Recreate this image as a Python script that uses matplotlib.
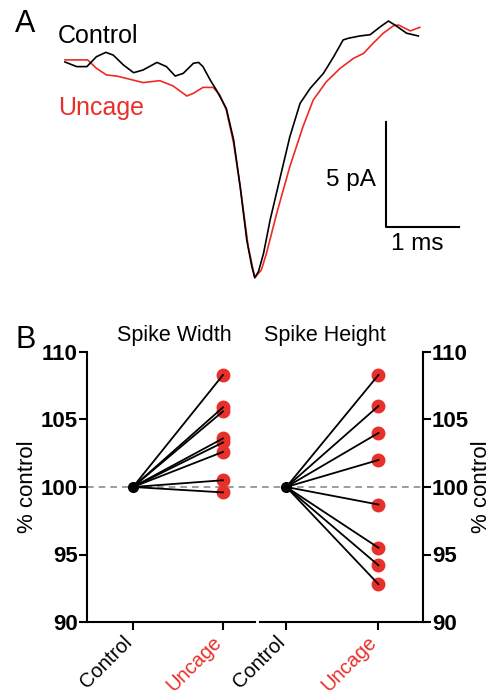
import numpy as np
import matplotlib
matplotlib.use('Agg')
import matplotlib.pyplot as plt
from matplotlib.transforms import ScaledTranslation

plt.rcParams['font.family'] = ['Liberation Sans', 'DejaVu Sans']

# Panel A: averaged spike traces (time in ms, current in pA)
ctrl_t = [0, 0.16, 0.30, 0.43, 0.56, 0.66, 0.80, 0.94, 1.07, 1.26, 1.39, 1.51, 1.62, 1.76,
          1.83, 1.89, 1.99, 2.08, 2.21, 2.31, 2.40, 2.49, 2.56, 2.60, 2.65, 2.72, 2.81, 2.95,
          3.08, 3.22, 3.36, 3.54, 3.68, 3.81, 3.88, 4.04, 4.18, 4.32, 4.43, 4.52, 4.68, 4.84]
ctrl_i = [0, -0.22, -0.22, 0.25, 0.46, 0.33, -0.14, -0.51, -0.38, -0.02, -0.22, -0.67, -0.54, -0.06,
          -0.02, -0.22, -0.86, -1.37, -2.21, -3.71, -5.94, -8.48, -9.75, -10.27, -9.98, -9.11, -7.52, -5.46,
          -3.56, -1.97, -1.25, -0.54, 0.25, 1.05, 1.13, 1.24, 1.30, 1.68, 1.95, 1.76, 1.37, 1.24]
unc_t = [0, 0.31, 0.43, 0.57, 0.71, 0.84, 1.07, 1.30, 1.48, 1.67, 1.76, 1.89, 2.03, 2.12,
         2.21, 2.31, 2.40, 2.51, 2.60, 2.69, 2.76, 2.90, 3.08, 3.26, 3.40, 3.58, 3.77, 3.95,
         4.09, 4.22, 4.36, 4.50, 4.57, 4.73, 4.86]
unc_i = [0.10, 0.10, -0.30, -0.62, -0.67, -0.78, -0.98, -0.89, -1.14, -1.62, -1.49, -1.21, -1.21, -1.57,
         -2.29, -3.87, -5.94, -8.79, -10.27, -9.90, -9.11, -7.21, -4.98, -3.08, -1.81, -0.94, -0.30, 0.17,
         0.41, 0.89, 1.37, 1.73, 1.76, 1.48, 1.65]

# Panel B: % of control
groups = ['Control', 'Uncage']
width_uncage = [108.3, 105.9, 105.6, 103.6, 103.3, 102.6, 100.5, 99.6]
height_uncage = [108.3, 106.0, 104.0, 102.0, 98.7, 95.5, 94.2, 92.8]

RED = '#e8302a'
W, H = 492, 697
fig = plt.figure(figsize=(W / 100, H / 100), dpi=100)


def box(x0, x1, y0, y1):
    return [x0 / W, 1 - y1 / H, (x1 - x0) / W, (y1 - y0) / H]


# ---- Panel A ----
axa = fig.add_axes(box(0, 492, 0, 300))
axa.plot(unc_t, unc_i, color='#ee2a24', lw=1.2)
axa.plot(ctrl_t, ctrl_i, color='black', lw=1.2)
axa.set_xlim(-0.890, 5.849)
axa.set_ylim(-11.333, 2.952)
axa.axis('off')
# scale bar
axa.plot([4.40, 4.40, 5.40], [-2.86, -7.86, -7.86], color='black', lw=1.5)
axa.text(4.26, -5.62, '5 pA', ha='right', va='center', fontsize=17.5)
axa.text(4.82, -8.65, '1 ms', ha='center', va='center', fontsize=17.5)
axa.text(-0.10, 1.25, 'Control', ha='left', va='center', fontsize=18)
axa.text(-0.10, -2.19, 'Uncage', ha='left', va='center', fontsize=18, color=RED)
fig.text(15 / W, 1 - 24 / H, 'A', ha='left', va='center', fontsize=22)
fig.text(15 / W, 1 - 340 / H, 'B', ha='left', va='center', fontsize=22)

# ---- Panel B ----
ax1 = fig.add_axes(box(87, 255, 352, 622))
ax2 = fig.add_axes(box(260, 423, 352, 622))
x = np.arange(len(groups))

for ax, vals in [(ax1, width_uncage), (ax2, height_uncage)]:
    for v in vals:
        ax.plot(x, [100, v], color='black', lw=1.3, zorder=3)
    ax.plot(np.ones(len(vals)), vals, 'o', color=RED, ms=9, zorder=2, clip_on=False)
    ax.plot([0], [100], 'o', color='black', ms=7, zorder=4)
    ax.set_ylim(90, 110)
    ax.set_yticks([90, 95, 100, 105, 110])
    ax.set_xticks(x)
    ax.set_xticklabels(groups, rotation=45, ha='right', va='center', rotation_mode='anchor', fontsize=14.5)
    ax.get_xticklabels()[1].set_color(RED)
    ax.tick_params(axis='both', width=1.5, length=5.5, direction='out')
    ax.tick_params(axis='x', pad=7)
    ax.tick_params(axis='y', labelsize=16, pad=1)
    for s in ax.spines.values():
        s.set_linewidth(1.5)
    ax.spines['top'].set_visible(False)
    ax.set_facecolor('none')

ax1.set_xlim(-0.511, 1.356)
ax1.spines['right'].set_visible(False)
ax1.set_ylabel('% control', fontsize=16, labelpad=2)
ax1.axhline(100, xmin=0, xmax=(423 - 87) / (255 - 87), color='#8c8c8c', ls=(0, (4, 3)),
            lw=1.2, clip_on=False, zorder=1)
ax1.text(0.52, 1.06, 'Spike Width', transform=ax1.transAxes, ha='center', va='center', fontsize=15.5)

ax2.set_xlim(-0.286, 1.484)
ax2.spines['left'].set_visible(False)
ax2.yaxis.tick_right()
ax2.yaxis.set_label_position('right')
ax2.set_ylabel('% control', fontsize=16, labelpad=1)
ax2.text(0.40, 1.06, 'Spike Height', transform=ax2.transAxes, ha='center', va='center', fontsize=15.5)

for ax in (ax1, ax2):
    for lab in ax.yaxis.get_majorticklabels():
        lab.set_fontweight('bold')
    # nudge the rotated labels slightly left so their ends sit under the ticks
    for lab in ax.get_xticklabels():
        lab.set_transform(lab.get_transform() + ScaledTranslation(-3 / 72, 0, fig.dpi_scale_trans))

fig.savefig('out.png', dpi=100)
